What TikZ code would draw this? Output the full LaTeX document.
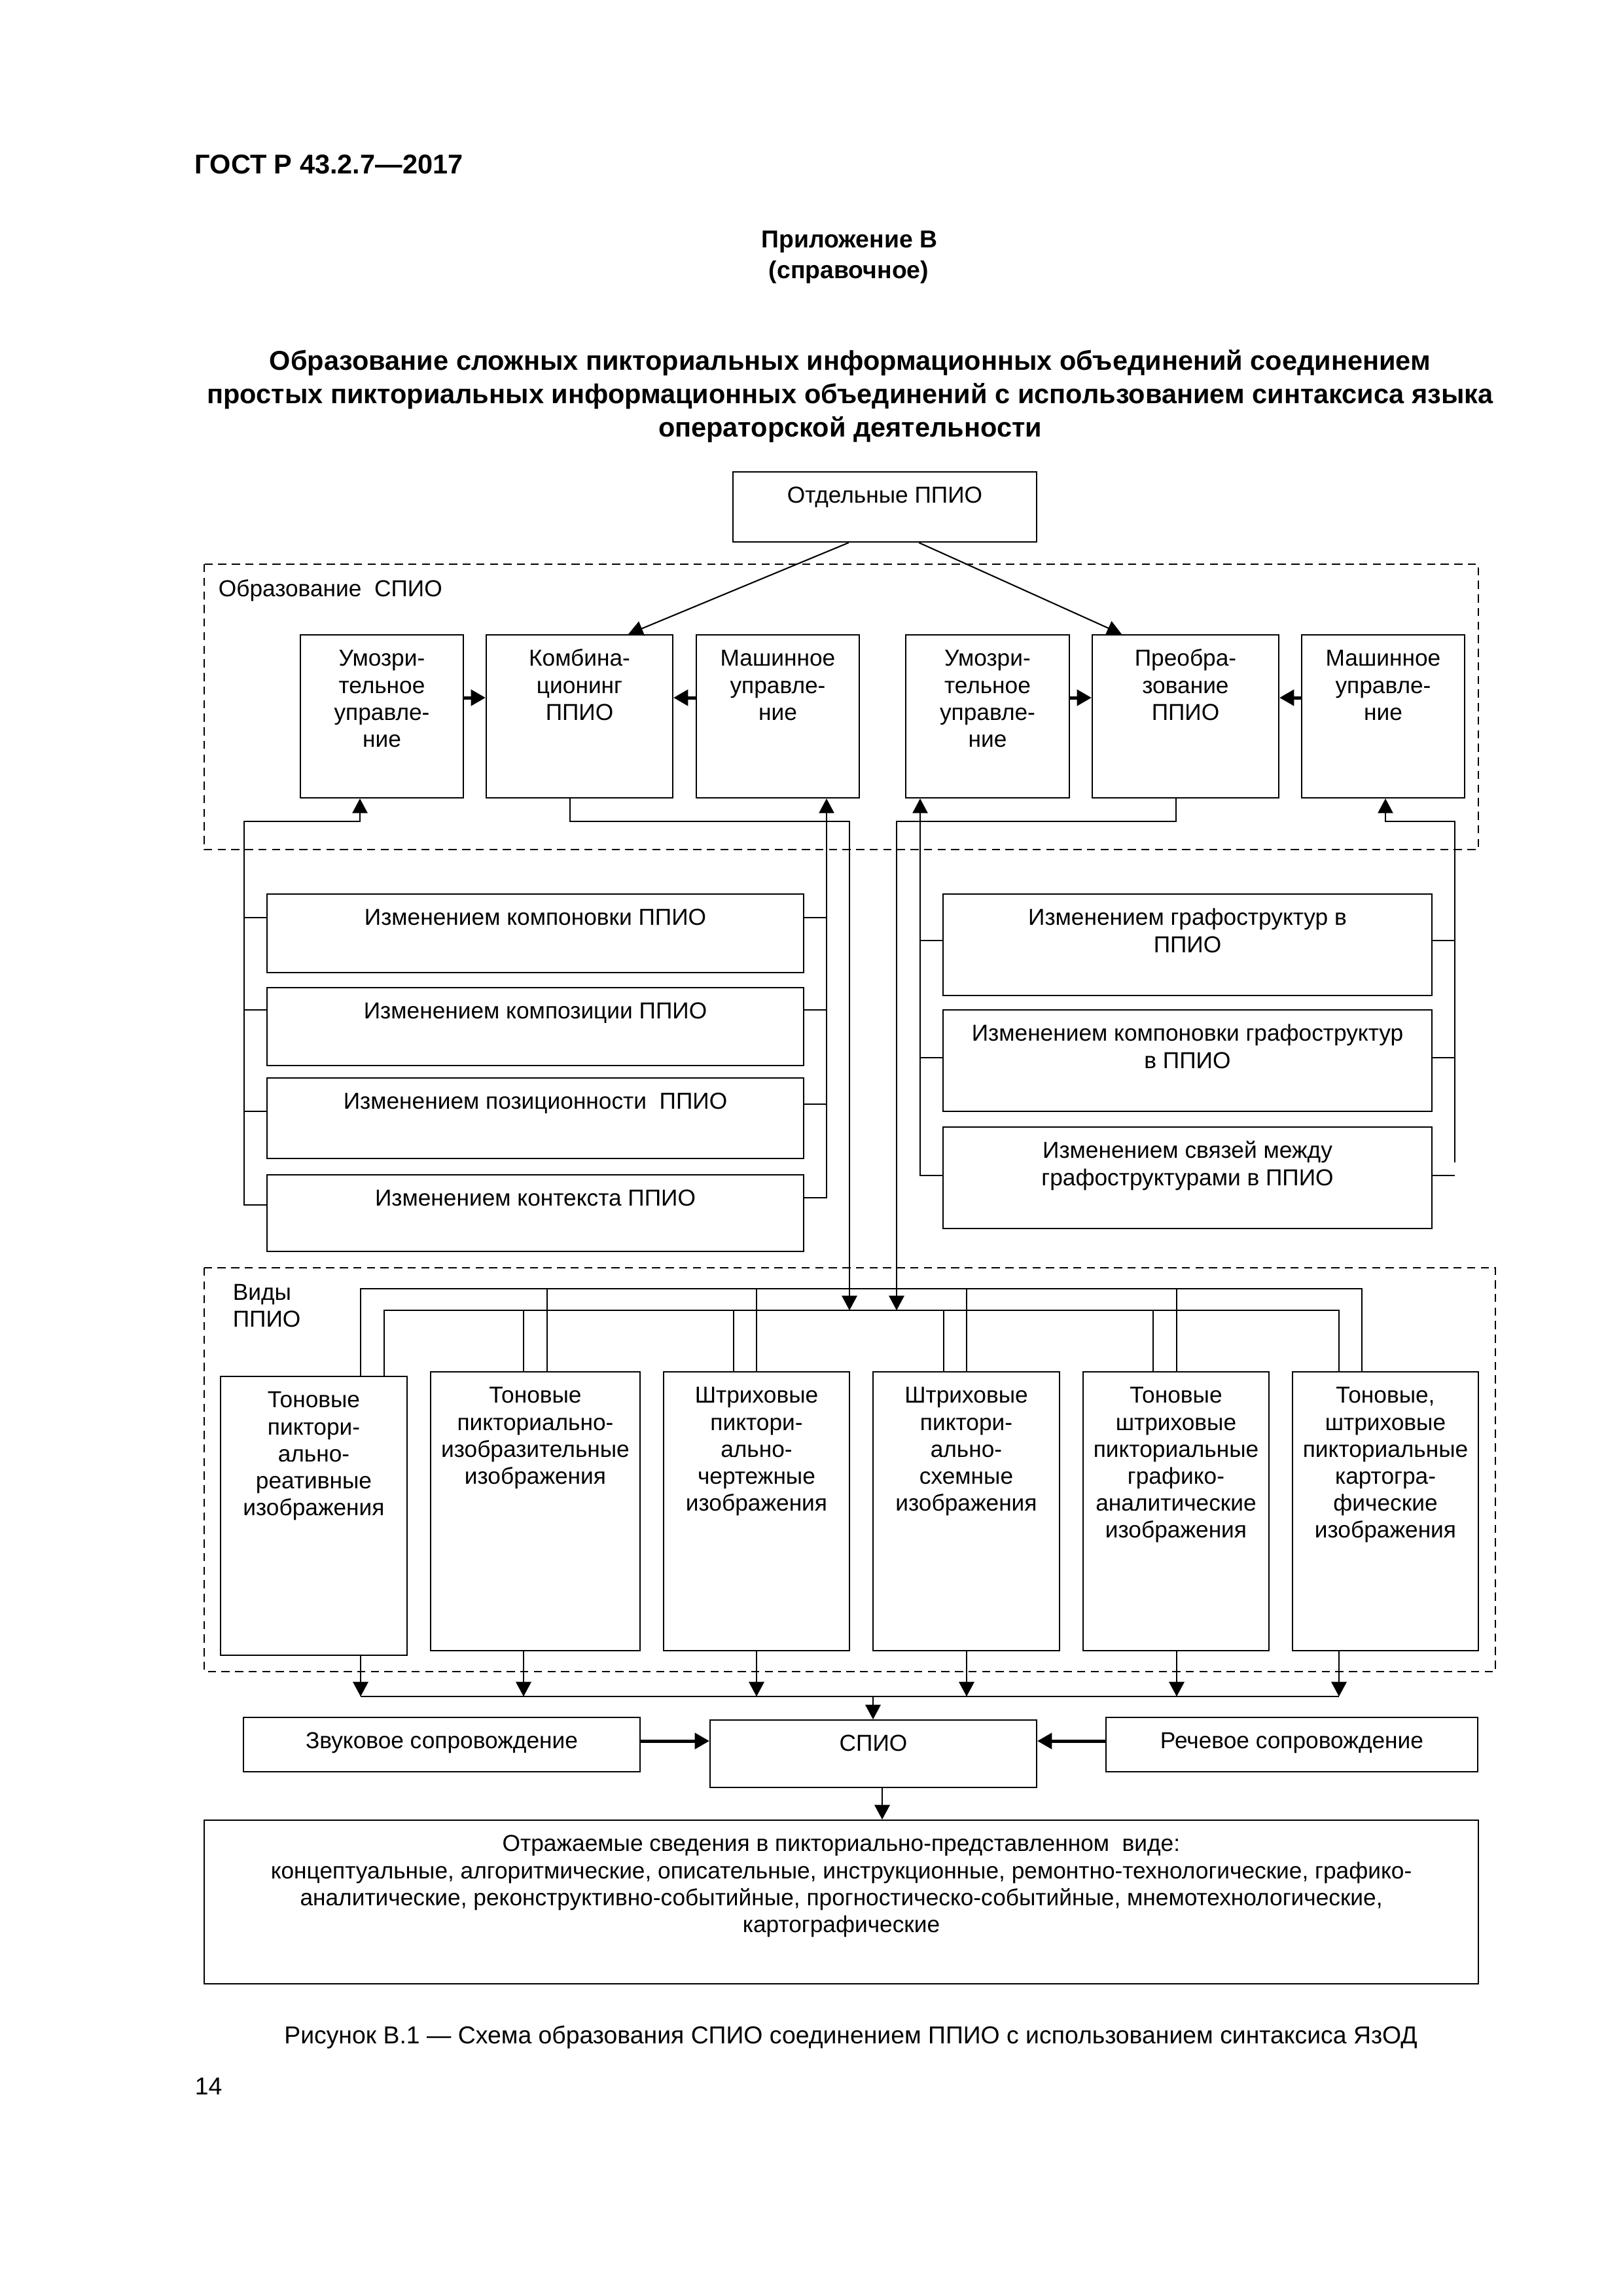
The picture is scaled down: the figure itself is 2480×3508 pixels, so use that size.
\documentclass[tikz,border=0pt]{standalone}
\usepackage{fontspec}
\setmainfont{Liberation Sans}
\usetikzlibrary{arrows.meta,fit,calc}
\newcommand\DiagFont{\fontsize{8.5}{9.9}\selectfont}
\newcommand\mytab[1]{\begin{tabular}[t]{@{}c@{}}#1\end{tabular}}
\newcommand\mybox[6]{%
  \coordinate (#1-nw) at (#2,#3);
  \coordinate (#1-se) at (#4,#5);
  \node[boxst, fit=(#1-nw)(#1-se)] (#1) {};
  \node[txt] (#1-t) at ($(#1.north)+(0,49)$) {\mytab{#6}};
}
\begin{document}
\begin{tikzpicture}[x=0.0846774mm,y=-0.0846774mm,
  boxst/.style={draw, line width=0.5pt, inner sep=0pt},
  dbox/.style={draw, dash pattern=on 3pt off 2pt, line width=0.55pt},
  txt/.style={inner sep=0pt, anchor=base, font=\DiagFont},
  ln/.style={line width=0.5pt},
  arr/.style={line width=0.5pt, -{Triangle[length=5.4pt,width=5.6pt]}},
  arrk/.style={line width=0.7pt, -{Triangle[length=5.4pt,width=5.6pt]}},
  tarr/.style={line width=1.2pt, -{Triangle[length=5.4pt,width=5.8pt]}},
]
\fill[white] (0,0) rectangle (2480,3508);
\useasboundingbox (0,0) rectangle (2480,3508);

% ---------- page texts ----------
\node[anchor=base west, inner sep=0pt, font=\bfseries\fontsize{10}{12}\selectfont] (gost) at (297,265) {ГОСТ Р 43.2.7—2017};
\node[anchor=base, inner sep=0pt, font=\bfseries\fontsize{9}{11}\selectfont] (pril) at (1298,378) {Приложение В};
\node[anchor=base, inner sep=0pt, font=\bfseries\fontsize{9}{11}\selectfont] (sprav) at (1297,425) {(справочное)};
\node[anchor=base, inner sep=0pt, font=\bfseries\fontsize{10}{12.3}\selectfont] (title) at (1299,565)
  {\mytab{Образование сложных пикториальных информационных объединений соединением\\
   простых пикториальных информационных объединений с использованием синтаксиса языка\\
   операторской деятельности}};
\node[anchor=base, inner sep=0pt, font=\fontsize{9}{11}\selectfont] (cap) at (1300,3122)
  {Рисунок В.1 — Схема образования СПИО соединением ППИО с использованием синтаксиса ЯзОД};
\node[anchor=base west, inner sep=0pt, font=\fontsize{9}{11}\selectfont] (pg) at (297,3200) {14};

% ---------- dashed frames ----------
\draw[dbox] (312,862) rectangle (2259,1298);
\draw[dbox] (312,1937) rectangle (2285,2554);
\node[txt, anchor=base west] (obr) at (333,911) {Образование~ СПИО};
\node[txt, anchor=base west] (vidy) at (355,1986) {\begin{tabular}[t]{@{}l@{}}Виды\\ППИО\end{tabular}};

% ---------- boxes ----------
\mybox{otd}{1120}{721}{1584}{828}{Отдельные ППИО}
\mybox{b1}{459}{970}{708}{1219}{Умозри-\\тельное\\управле-\\ние}
\mybox{b2}{743}{970}{1028}{1219}{Комбина-\\ционинг\\ППИО}
\mybox{b3}{1064}{970}{1313}{1219}{Машинное\\управле-\\ние}
\mybox{b4}{1384}{970}{1634}{1219}{Умозри-\\тельное\\управле-\\ние}
\mybox{b5}{1669}{970}{1954}{1219}{Преобра-\\зование\\ППИО}
\mybox{b6}{1989}{970}{2238}{1219}{Машинное\\управле-\\ние}

\mybox{lA}{408}{1366}{1228}{1486}{Изменением компоновки ППИО}
\mybox{lB}{408}{1509}{1228}{1628}{Изменением композиции ППИО}
\mybox{lC}{408}{1647}{1228}{1770}{Изменением позиционности~ ППИО}
\mybox{lD}{408}{1795}{1228}{1912}{Изменением контекста ППИО}

\mybox{rE}{1441}{1366}{2188}{1521}{Изменением графоструктур в\\ППИО}
\mybox{rF}{1441}{1543}{2188}{1698}{Изменением компоновки графоструктур\\в ППИО}
\mybox{rG}{1441}{1722}{2188}{1877}{Изменением связей между\\графоструктурами в ППИО}

\mybox{v1}{337}{2103}{622}{2529}{Тоновые\\пиктори-\\ально-\\реативные\\изображения}
\mybox{v2}{658}{2096}{978}{2522}{Тоновые\\пикториально-\\изобразительные\\изображения}
\mybox{v3}{1014}{2096}{1298}{2522}{Штриховые\\пиктори-\\ально-\\чертежные\\изображения}
\mybox{v4}{1334}{2096}{1619}{2522}{Штриховые\\пиктори-\\ально-\\схемные\\изображения}
\mybox{v5}{1655}{2096}{1939}{2522}{Тоновые\\штриховые\\пикториальные\\графико-\\аналитические\\изображения}
\mybox{v6}{1975}{2096}{2259}{2522}{Тоновые,\\штриховые\\пикториальные\\картогра-\\фические\\изображения}

\mybox{zv}{372}{2624}{978}{2707}{Звуковое сопровождение}
\mybox{spio}{1085}{2628}{1584}{2731}{СПИО}
\mybox{rech}{1690}{2624}{2258}{2707}{Речевое сопровождение}
\mybox{res}{312}{2781}{2259}{3031}{Отражаемые сведения в пикториально-представленном~ виде:\\
концептуальные, алгоритмические, описательные, инструкционные, ремонтно-технологические, графико-\\
аналитические, реконструктивно-событийные, прогностическо-событийные, мнемотехнологические,\\
картографические}

% ---------- connectors: top ----------
\draw[arr] (otd.south -| 1297,0) -- (b2.north -| 960,0);
\draw[arr] (otd.south -| 1404,0) -- (b5.north -| 1714,0);
\draw[tarr] (b1.east |- 0,1066) -- (b2.west |- 0,1066);
\draw[tarr] (b3.west |- 0,1066) -- (b2.east |- 0,1066);
\draw[tarr] (b4.east |- 0,1066) -- (b5.west |- 0,1066);
\draw[tarr] (b6.west |- 0,1066) -- (b5.east |- 0,1066);

% left group, left rail -> b1
\draw[arr] (lD.west |- 0,1841) -- (373,1841) -- (373,1255) -- (550,1255) -- (b1.south -| 550,0);
\draw[ln] (lA.west |- 0,1402) -- (373,1402);
\draw[ln] (lB.west |- 0,1543) -- (373,1543);
\draw[ln] (lC.west |- 0,1698) -- (373,1698);
% left group, right rail -> b3
\draw[arr] (lD.east |- 0,1830) -- (1263,1830) -- (b3.south -| 1263,0);
\draw[ln] (lA.east |- 0,1402) -- (1263,1402);
\draw[ln] (lB.east |- 0,1543) -- (1263,1543);
\draw[ln] (lC.east |- 0,1687) -- (1263,1687);

% right group, left rail -> b4
\draw[arr] (rG.west |- 0,1796) -- (1406,1796) -- (b4.south -| 1406,0);
\draw[ln] (rE.west |- 0,1437) -- (1406,1437);
\draw[ln] (rF.west |- 0,1616) -- (1406,1616);
% right group, right rail -> b6
\coordinate (rrEnd) at (2223,1776);
\draw[arr] (rrEnd) -- (2223,1255) -- (2117,1255) -- (b6.south -| 2117,0);
\draw[ln] (rE.east |- 0,1437) -- (2223,1437);
\draw[ln] (rF.east |- 0,1616) -- (2223,1616);
\draw[ln] (rG.east |- 0,1796) -- (2223,1796);

% b2, b5 -> buses of Виды
\coordinate (busIn1) at (1298,2002);
\coordinate (busIn2) at (1370,2002);
\draw[arrk] (b2.south -| 871,0) -- (871,1255) -- (1298,1255) -- (busIn1);
\draw[arrk] (b5.south -| 1797,0) -- (1797,1255) -- (1370,1255) -- (busIn2);

% buses on top of Виды boxes
\draw[ln] (v1.north -| 551,0) -- (551,1969) -- (2081,1969) -- (v6.north -| 2081,0);
\draw[ln] (v1.north -| 587,0) -- (587,2002) -- (2046,2002) -- (v6.north -| 2046,0);
\draw[ln] (836,1969) -- (v2.north -| 836,0);
\draw[ln] (800,2002) -- (v2.north -| 800,0);
\draw[ln] (1156,1969) -- (v3.north -| 1156,0);
\draw[ln] (1121,2002) -- (v3.north -| 1121,0);
\draw[ln] (1477,1969) -- (v4.north -| 1477,0);
\draw[ln] (1442,2002) -- (v4.north -| 1442,0);
\draw[ln] (1798,1969) -- (v5.north -| 1798,0);
\draw[ln] (1762,2002) -- (v5.north -| 1762,0);

% Виды -> bottom bus -> СПИО
\draw[arrk] (v1.south -| 551,0) -- (551,2592);
\draw[arrk] (v2.south -| 800,0) -- (800,2592);
\draw[arrk] (v3.south -| 1156,0) -- (1156,2592);
\draw[arrk] (v4.south -| 1477,0) -- (1477,2592);
\draw[arrk] (v5.south -| 1798,0) -- (1798,2592);
\draw[arrk] (v6.south -| 2046,0) -- (2046,2592);
\draw[ln] (551,2592) -- (2046,2592);
\draw[arrk] (1334,2592) -- (spio.north -| 1334,0);
\draw[tarr] (zv.east |- 0,2660) -- (spio.west |- 0,2660);
\draw[tarr] (rech.west |- 0,2660) -- (spio.east |- 0,2660);
\draw[arrk] (spio.south -| 1348,0) -- (res.north -| 1348,0);
\end{tikzpicture}
\end{document}
